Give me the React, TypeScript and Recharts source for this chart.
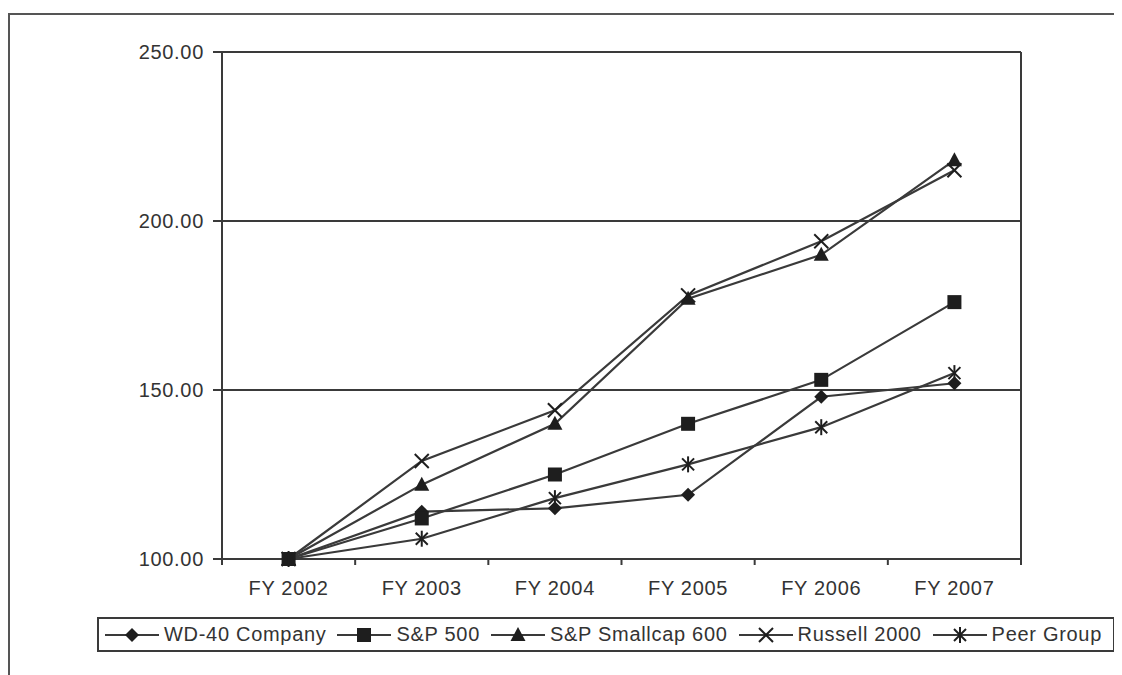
import React from 'react'
import { LineChart, Line, XAxis, YAxis, CartesianGrid } from 'recharts'

const categories = ['FY 2002', 'FY 2003', 'FY 2004', 'FY 2005', 'FY 2006', 'FY 2007']
const wd40 = [100, 114, 115, 119, 148, 152]
const sp500 = [100, 112, 125, 140, 153, 176]
const smallcap600 = [100, 122, 140, 177, 190, 218]
const russell2000 = [100, 129, 144, 178, 194, 215]
const peerGroup = [100, 106, 118, 128, 139, 155]
const yTicks = [100, 150, 200, 250]

type Kind = 'diamond' | 'square' | 'triangle' | 'cross' | 'asterisk'

const series: { key: string; name: string; values: number[]; kind: Kind }[] = [
  { key: 'wd40', name: 'WD-40 Company', values: wd40, kind: 'diamond' },
  { key: 'sp500', name: 'S&P 500', values: sp500, kind: 'square' },
  { key: 'sc600', name: 'S&P Smallcap 600', values: smallcap600, kind: 'triangle' },
  { key: 'r2000', name: 'Russell 2000', values: russell2000, kind: 'cross' },
  { key: 'peer', name: 'Peer Group', values: peerGroup, kind: 'asterisk' },
]

const data = categories.map((cat, i) => {
  const row: Record<string, string | number> = { cat }
  series.forEach((s) => (row[s.key] = s.values[i]))
  return row
})

const FONT = '"Liberation Sans", Arial, Helvetica, sans-serif'
const INK = '#3a3a3a'
const MARK = '#1e1e1e'

const W = 1114
const H = 650
const MARGIN = { top: 44, right: 100, bottom: 59, left: 14 }
const Y_WIDTH = 200
const PLOT_LEFT = MARGIN.left + Y_WIDTH
const PLOT_RIGHT = W - MARGIN.right - 1
const BAND = (PLOT_RIGHT - PLOT_LEFT) / categories.length

function Marker({ kind, cx, cy }: { kind: Kind; cx: number; cy: number }) {
  switch (kind) {
    case 'diamond':
      return <polygon points={`${cx},${cy - 7} ${cx + 7},${cy} ${cx},${cy + 7} ${cx - 7},${cy}`} fill={MARK} />
    case 'square':
      return <rect x={cx - 7} y={cy - 7} width={14} height={14} fill={MARK} />
    case 'triangle':
      return <polygon points={`${cx},${cy - 8} ${cx + 7.5},${cy + 6} ${cx - 7.5},${cy + 6}`} fill={MARK} />
    case 'cross':
      return (
        <g stroke={MARK} strokeWidth={2}>
          <line x1={cx - 7} y1={cy - 7} x2={cx + 7} y2={cy + 7} />
          <line x1={cx - 7} y1={cy + 7} x2={cx + 7} y2={cy - 7} />
        </g>
      )
    case 'asterisk':
      return (
        <g stroke={MARK} strokeWidth={2}>
          <line x1={cx - 6} y1={cy - 6} x2={cx + 6} y2={cy + 6} />
          <line x1={cx - 6} y1={cy + 6} x2={cx + 6} y2={cy - 6} />
          <line x1={cx} y1={cy - 8} x2={cx} y2={cy + 8} />
        </g>
      )
  }
  return null
}

function CategoryTick(props: any) {
  const { x, y, payload, index } = props
  const half = BAND / 2
  return (
    <g>
      <line x1={x - half} y1={y} x2={x - half} y2={y + 6} stroke={INK} strokeWidth={2} />
      {index === categories.length - 1 && (
        <line x1={x + half} y1={y} x2={x + half} y2={y + 6} stroke={INK} strokeWidth={2} />
      )}
      <text x={x} y={y + 36} textAnchor="middle" fill="#333" fontSize={20} fontFamily={FONT} letterSpacing={0.7}>
        {payload.value}
      </text>
    </g>
  )
}

function LegendBox() {
  return (
    <div
      style={{
        position: 'absolute',
        left: 89,
        top: 609,
        width: 1018,
        height: 35,
        boxSizing: 'border-box',
        border: `2px solid ${INK}`,
        display: 'flex',
        alignItems: 'center',
        paddingLeft: 6,
        gap: 11,
        fontFamily: FONT,
        fontSize: 20,
        letterSpacing: 0.7,
        color: '#333',
        whiteSpace: 'nowrap',
      }}
    >
      {series.map((s) => (
        <div key={s.key} style={{ display: 'flex', alignItems: 'center' }}>
          <svg width={54} height={20} style={{ display: 'block' }}>
            <line x1={0} y1={10} x2={54} y2={10} stroke={INK} strokeWidth={2} />
            <Marker kind={s.kind} cx={27} cy={10} />
          </svg>
          <span style={{ marginLeft: 5 }}>{s.name}</span>
        </div>
      ))}
    </div>
  )
}

export default function App() {
  return (
    <div style={{ position: 'relative', width: W, height: 667 }}>
      {/* outer frame, only top and left edges show */}
      <div
        style={{
          position: 'absolute',
          left: 0,
          top: 5,
          width: W + 10,
          height: 680,
          borderTop: '2px solid #555',
          borderLeft: '2px solid #555',
        }}
      />
      <div style={{ position: 'absolute', left: 0, top: 0 }}>
        <LineChart width={W} height={H} data={data} margin={MARGIN}>
          <CartesianGrid vertical={false} stroke={INK} strokeWidth={2} />
          <XAxis
            dataKey="cat"
            scale="band"
            axisLine={{ stroke: INK, strokeWidth: 2 }}
            tickLine={false}
            tickSize={0}
            tickMargin={0}
            interval={0}
            height={40}
            tick={<CategoryTick />}
          />
          <YAxis
            width={Y_WIDTH}
            domain={[100, 250]}
            ticks={yTicks}
            interval={0}
            tickFormatter={(v: number) => v.toFixed(2)}
            axisLine={{ stroke: INK, strokeWidth: 2 }}
            tickLine={{ stroke: INK, strokeWidth: 2 }}
            tickSize={9}
            tickMargin={9}
            tick={{ fill: '#333', fontSize: 20, fontFamily: FONT, letterSpacing: 0.7 }}
          />
          <YAxis
            yAxisId="right"
            orientation="right"
            width={1}
            domain={[100, 250]}
            tick={false}
            tickLine={false}
            axisLine={{ stroke: INK, strokeWidth: 2 }}
          />
          {series.map((s) => (
            <Line
              key={s.key}
              dataKey={s.key}
              name={s.name}
              type="linear"
              stroke={INK}
              strokeWidth={2.2}
              isAnimationActive={false}
              dot={(p: any) => <Marker key={`${s.key}-${p.index}`} kind={s.kind} cx={p.cx} cy={p.cy} />}
              activeDot={false}
            />
          ))}
        </LineChart>
      </div>
      <LegendBox />
    </div>
  )
}
